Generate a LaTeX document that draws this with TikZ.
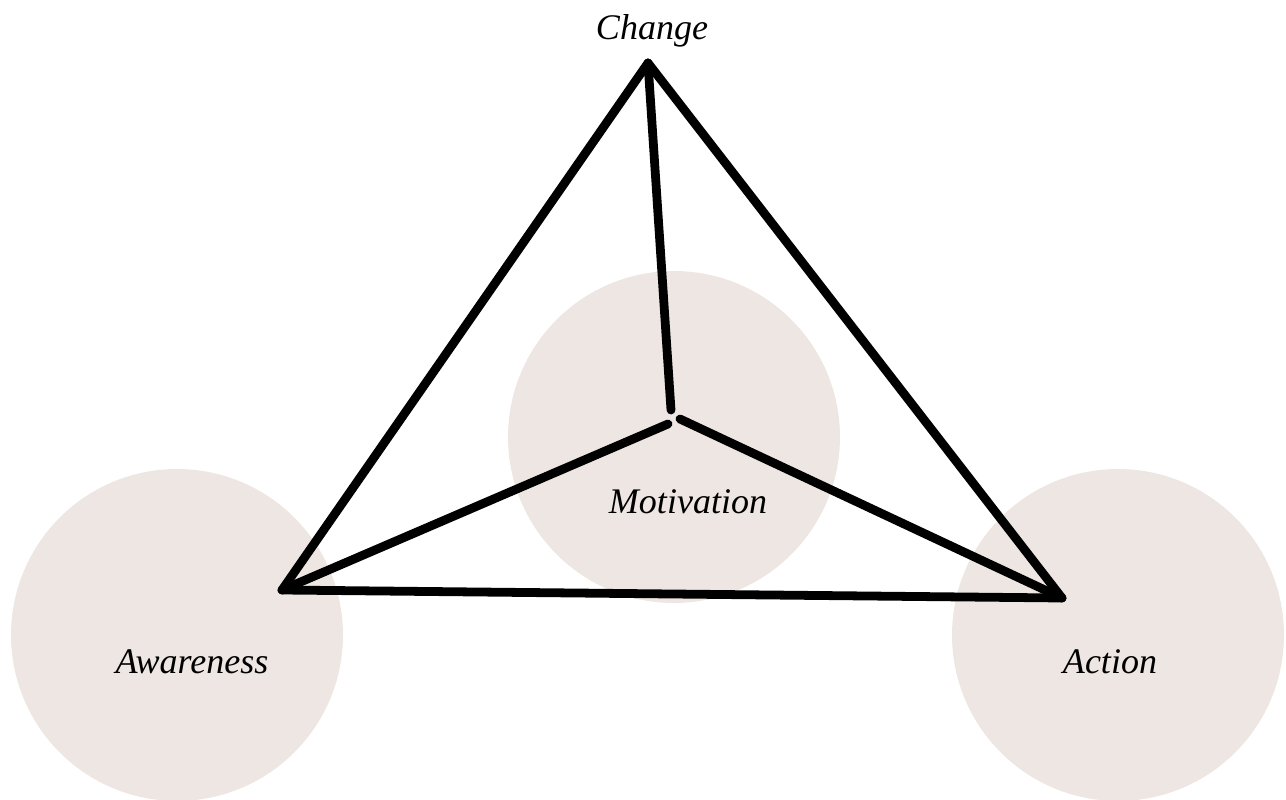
\documentclass[tikz,border=0pt]{standalone}
\usepackage{fontspec}
\setmainfont{Liberation Serif}
\usetikzlibrary{positioning}
\definecolor{blush}{HTML}{EEE6E3}

\begin{document}
\begin{tikzpicture}[x=0.02cm,y=-0.02cm]
\tikzset{
  disc/.style={circle,fill=blush,minimum size=6.64cm,inner sep=0pt},
  word/.style={font=\fontsize{20.5}{24}\selectfont\itshape},
  edge/.style={line width=5pt,line cap=round,line join=round}
}
\useasboundingbox (0,0) rectangle (1286,800);
% discs
\node[disc] (aw) at (177,635) {};
\node[disc] (mo) at (674,437) {};
\node[disc] (ac) at (1118,635) {};
% corners
\coordinate (top) at (648,63);
\coordinate (left) at (282,590);
\coordinate (right) at (1062,598);
\coordinate (midtop) at (671,410);
\coordinate (midl) at (668,424);
\coordinate (midr) at (680,419);
% edges
\draw[edge] (top) -- (left);
\draw[edge] (top) -- (right);
\draw[edge] (left) -- (right);
\draw[edge] (top) -- (midtop);
\draw[edge] (midl) -- (left);
\draw[edge] (midr) -- (right);
% labels
\node[word] (change) at (652,31) {Change};
\node[word] (motiv) at (688,502) {Motivation};
\node[word] (aware) at (192,662) {Awareness};
\node[word] (action) at (1110,662) {Action};
\end{tikzpicture}
\end{document}
